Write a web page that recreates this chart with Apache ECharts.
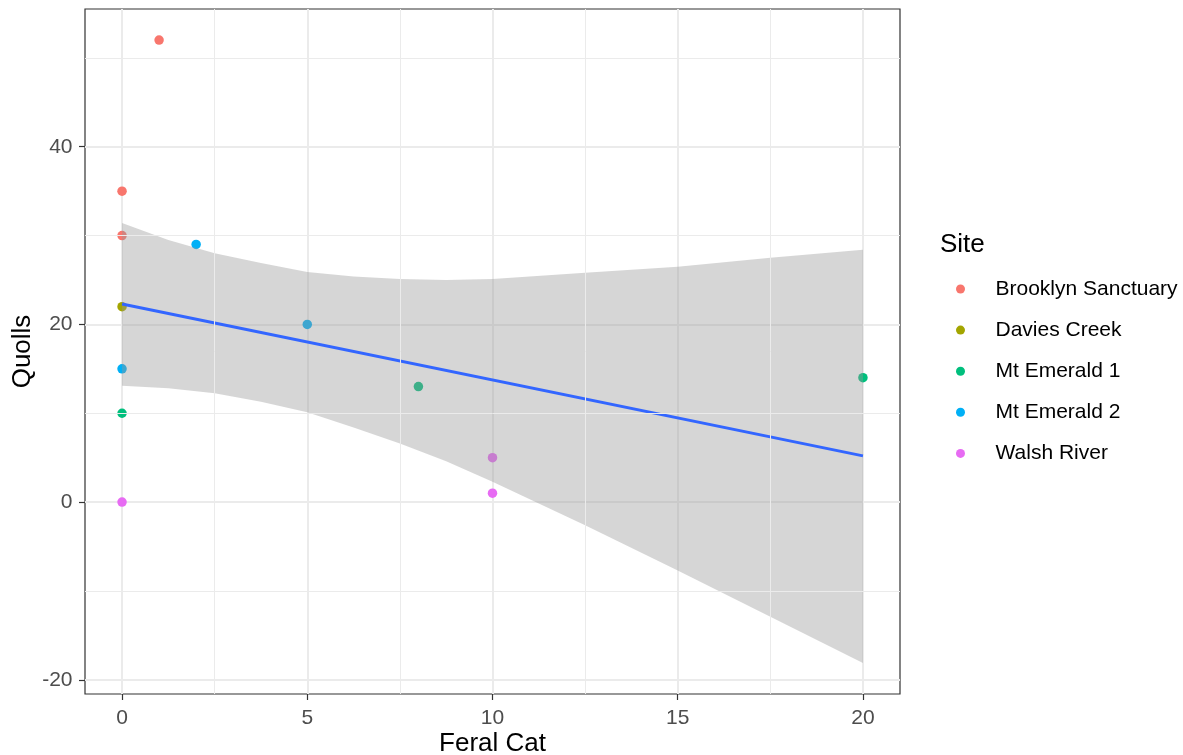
<!DOCTYPE html>
<html>
<head>
<meta charset="utf-8">
<script src="https://cdn.jsdelivr.net/npm/echarts@6/dist/echarts.min.js"></script>
<style>
html,body{margin:0;padding:0;background:#fff;}
#chart{width:1183px;height:755px;}
</style>
</head>
<body>
<div id="chart"></div>
<script>
// ---- data ----
const sites = ['Brooklyn Sanctuary', 'Davies Creek', 'Mt Emerald 1', 'Mt Emerald 2', 'Walsh River'];
const siteColors = ['#F8766D', '#A3A500', '#00BF7D', '#00B0F6', '#E76BF3'];
const brooklyn = [[1, 52], [0, 35], [0, 30]];
const davies = [[0, 22]];
const emerald1 = [[0, 10], [8, 13], [20, 14]];
const emerald2 = [[0, 15], [2, 29], [5, 20]];
const walsh = [[0, 0], [10, 5], [10, 1]];
const sitePoints = [brooklyn, davies, emerald1, emerald2, walsh];

// fitted line (lm) and its confidence band
const fitX = [0, 20];
const fitY = [22.3, 5.2];
const bandX = [0, 1.25, 2.5, 3.75, 5, 6.25, 7.5, 8.75, 10, 12.5, 15, 17.5, 20];
const bandUpper = [31.4, 29.5, 28.0, 26.9, 25.9, 25.4, 25.1, 25.0, 25.1, 25.8, 26.5, 27.5, 28.4];
const bandLower = [13.1, 12.8, 12.25, 11.3, 10.1, 8.4, 6.6, 4.6, 2.3, -2.6, -7.7, -12.9, -18.1];

// ticks
const xTicks = [0, 5, 10, 15, 20];
const xMinor = [2.5, 7.5, 12.5, 17.5];
const yTicks = [-20, 0, 20, 40];
const yMinor = [-10, 10, 30, 50];

const FONT = "'Liberation Sans', Arial, sans-serif";

const chart = echarts.init(document.getElementById('chart'), null, {renderer: 'canvas'});

const scatterSeries = sites.map((name, i) => ({
  type: 'scatter',
  name: name,
  data: sitePoints[i],
  symbol: 'circle',
  symbolSize: 9.5,
  itemStyle: {color: siteColors[i], opacity: 1},
  z: 2,
  silent: true
}));

const bandData = bandX.map((x, i) => [x, bandUpper[i], bandLower[i]]);

const option = {
  animation: false,
  backgroundColor: '#ffffff',
  textStyle: {fontFamily: FONT},
  title: {
    text: 'Site',
    left: 935,
    top: 227,
    textStyle: {fontFamily: FONT, fontSize: 26, fontWeight: 'normal', color: '#000'}
  },
  legend: {
    data: sites,
    orient: 'vertical',
    left: 951,
    top: 272,
    icon: 'circle',
    itemWidth: 60,
    itemHeight: 9,
    itemGap: 17.1,
    selectedMode: false,
    textStyle: {fontFamily: FONT, fontSize: 21, color: '#000', lineHeight: 24}
  },
  grid: {
    left: 85, right: 283, top: 9, bottom: 61,
    outerBoundsMode: 'none',
    containLabel: false,
    show: true, borderColor: '#333333', borderWidth: 1.2,
    backgroundColor: 'transparent'
  },
  xAxis: {
    type: 'value',
    min: -1.0, max: 21.0,
    name: 'Feral Cat',
    nameLocation: 'middle',
    nameGap: 37,
    nameMoveOverlap: false,
    nameTextStyle: {fontFamily: FONT, fontSize: 26, color: '#000'},
    axisLine: {show: false, onZero: false},
    axisTick: {show: true, length: 6, lineStyle: {color: '#333333', width: 1.2}, customValues: xTicks},
    axisLabel: {show: true, margin: 14, fontFamily: FONT, fontSize: 21, color: '#4d4d4d', customValues: xTicks},
    splitLine: {show: true, lineStyle: {color: '#ebebeb', width: 2}}
  },
  yAxis: {
    type: 'value',
    min: -21.6, max: 55.5,
    name: 'Quolls',
    nameLocation: 'middle',
    nameGap: 49.5,
    nameMoveOverlap: false,
    nameRotate: 90,
    nameTextStyle: {fontFamily: FONT, fontSize: 26, color: '#000'},
    axisLine: {show: false, onZero: false},
    axisTick: {show: true, length: 6, lineStyle: {color: '#333333', width: 1.2}, customValues: yTicks},
    axisLabel: {show: true, margin: 12.5, fontFamily: FONT, fontSize: 21, color: '#4d4d4d', customValues: yTicks},
    splitLine: {show: true, lineStyle: {color: '#ebebeb', width: 2}}
  },
  series: [
    {
      type: 'line',
      name: 'minorGrid',
      data: [],
      silent: true,
      z: 0,
      markLine: {
        silent: true,
        symbol: ['none', 'none'],
        label: {show: false},
        animation: false,
        lineStyle: {color: '#ebebeb', width: 1, type: 'solid'},
        data: xMinor.map(v => ({xAxis: v})).concat(yMinor.map(v => ({yAxis: v})))
      }
    },
    ...scatterSeries,
    {
      type: 'custom',
      name: 'band',
      data: bandData,
      encode: {x: 0, y: [1, 2]},
      z: 3,
      silent: true,
      renderItem: function (params, api) {
        if (params.dataIndex !== 0) return;
        const pts = [];
        for (let i = 0; i < bandX.length; i++) pts.push(api.coord([bandX[i], bandUpper[i]]));
        for (let i = bandX.length - 1; i >= 0; i--) pts.push(api.coord([bandX[i], bandLower[i]]));
        return {
          type: 'polygon',
          shape: {points: pts},
          style: {fill: 'rgba(153,153,153,0.4)', stroke: null}
        };
      }
    },
    {
      type: 'line',
      name: 'fit',
      data: fitX.map((x, i) => [x, fitY[i]]),
      showSymbol: false,
      symbol: 'none',
      silent: true,
      z: 4,
      lineStyle: {color: '#3366FF', width: 3}
    }
  ]
};

chart.setOption(option);
</script>
</body>
</html>
